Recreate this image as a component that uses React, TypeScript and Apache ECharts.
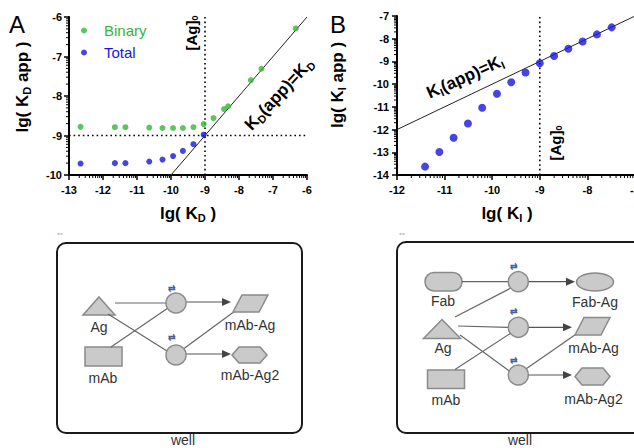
import React, { useEffect, useRef } from 'react';
import * as echarts from 'echarts';

// Panel A data: lg(KD) vs lg(KD app)
const binaryX = [-12.66, -11.65, -11.34, -10.64, -10.25, -9.94, -9.65, -9.34, -9.04, -8.75, -8.44, -8.32, -7.65, -7.34, -6.33];
const binaryY = [-8.78, -8.79, -8.79, -8.8, -8.81, -8.81, -8.81, -8.79, -8.71, -8.56, -8.33, -8.26, -7.6, -7.31, -6.29];
const totalX = [-12.66, -11.65, -11.34, -10.64, -10.25, -9.94, -9.65, -9.34, -9.04];
const totalY = [-9.71, -9.7, -9.7, -9.66, -9.61, -9.52, -9.39, -9.22, -8.98];
// Panel B data: lg(KI) vs lg(KI app)
const kiX = [-11.41, -11.11, -10.81, -10.51, -10.21, -9.9, -9.6, -9.3, -9.0, -8.7, -8.4, -8.1, -7.8, -7.49];
const kiY = [-13.63, -12.99, -12.36, -11.73, -11.04, -10.42, -9.92, -9.49, -9.08, -8.76, -8.44, -8.12, -7.81, -7.5];
// Reference lines
const identityA = [-10, -6];
const identityB = [-12, -7];
const ag0A = -9;
const kdRefA = -9;
const ag0B = -9;
// Axis ranges
const xRangeA = [-13, -6];
const yRangeA = [-10, -6];
const xRangeB = [-12, -7];
const yRangeB = [-14, -7];
// log-style minor tick multipliers within each decade
const minorMult = [2, 3, 4, 5, 6, 7, 8, 9];

const GREEN = '#36b536';
const BLUE = '#1717dc';
const FONT = 'Arial, "Liberation Sans", sans-serif';

function minorTicks(range: number[]) {
  const out: number[] = [];
  for (let n = range[0]; n < range[1]; n++) {
    for (const k of minorMult) out.push(n + Math.log10(k));
  }
  return out;
}

function subRich(size: number, weight: string, color: string) {
  const s = Math.round(size * 0.62);
  return {
    a: { fontSize: size, fontWeight: weight, fontFamily: FONT, fill: color, color },
    s: { fontSize: s, fontWeight: weight, fontFamily: FONT, fill: color, color, padding: [Math.round(size * 0.55), 0, 0, 0] },
  };
}

function richText(x: number, y: number, text: string, size: number, weight: string, rotationDeg: number, color = '#000') {
  return {
    type: 'text',
    x,
    y,
    rotation: (rotationDeg * Math.PI) / 180,
    silent: true,
    style: {
      text,
      rich: subRich(size, weight, color),
      align: 'center',
      verticalAlign: 'middle',
      fill: color,
      fontSize: size,
      fontWeight: weight,
      fontFamily: FONT,
    },
  };
}

function plainText(x: number, y: number, text: string, size: number, color = '#333', weight = 'normal') {
  return {
    type: 'text',
    x,
    y,
    silent: true,
    style: { text, fill: color, fontSize: size, fontFamily: FONT, fontWeight: weight, align: 'center', verticalAlign: 'middle' },
  };
}

const SHAPE_STYLE = { fill: '#cacaca', stroke: '#8a8a8a', lineWidth: 1.5 };
const LINE_STYLE = { stroke: '#666', lineWidth: 1.2 };

function ln(x1: number, y1: number, x2: number, y2: number) {
  return { type: 'line', silent: true, shape: { x1, y1, x2, y2 }, style: LINE_STYLE };
}
function arrow(x1: number, y: number, x2: number) {
  return [
    { type: 'line', silent: true, shape: { x1, y1: y, x2: x2 - 6, y2: y }, style: { stroke: '#555', lineWidth: 1.2 } },
    { type: 'polygon', silent: true, shape: { points: [[x2, y], [x2 - 9, y - 4], [x2 - 9, y + 4]] }, style: { fill: '#444' } },
  ];
}
function circ(cx: number, cy: number) {
  return { type: 'circle', silent: true, shape: { cx, cy, r: 10 }, style: SHAPE_STYLE };
}
function hexagon(cx: number, cy: number, w: number, h: number) {
  const hw = w / 2, hh = h / 2, c = w * 0.2;
  return {
    type: 'polygon', silent: true,
    shape: { points: [[cx - hw, cy], [cx - hw + c, cy - hh], [cx + hw - c, cy - hh], [cx + hw, cy], [cx + hw - c, cy + hh], [cx - hw + c, cy + hh]] },
    style: SHAPE_STYLE,
  };
}
function parallelogram(x: number, y: number, w: number, h: number, skew: number) {
  return {
    type: 'polygon', silent: true,
    shape: { points: [[x + skew, y], [x + w, y], [x + w - skew, y + h], [x, y + h]] },
    style: SHAPE_STYLE,
  };
}
function triangle(cx: number, top: number, w: number, h: number) {
  return {
    type: 'polygon', silent: true,
    shape: { points: [[cx, top], [cx + w / 2, top + h], [cx - w / 2, top + h]] },
    style: SHAPE_STYLE,
  };
}
function swapIcon(x: number, y: number) {
  return plainText(x, y, '⇄', 9, '#4a5f9a', 'bold');
}

function diagramA() {
  return [
    { type: 'rect', silent: true, shape: { x: 57, y: 243, width: 245, height: 190, r: 9 }, style: { fill: 'none', stroke: '#1a1a1a', lineWidth: 2 } },
    plainText(60, 233, '⇔', 9, '#7d8db5'),
    triangle(99, 297, 32, 18),
    plainText(99, 327, 'Ag', 14),
    { type: 'rect', silent: true, shape: { x: 85, y: 347, width: 37, height: 19 }, style: SHAPE_STYLE },
    plainText(103, 378, 'mAb', 14),
    ln(115, 303, 166, 303),
    ln(111, 347, 168, 308),
    ln(108, 314, 167, 351),
    ln(182, 350, 235, 311),
    ...arrow(186, 302, 231),
    ...arrow(186, 354, 231),
    circ(176, 303),
    circ(176, 355),
    swapIcon(172, 288),
    swapIcon(172, 337),
    parallelogram(233, 295, 35, 17, 9),
    plainText(250, 325, 'mAb-Ag', 14),
    hexagon(249.5, 355, 35, 16),
    plainText(250, 375, 'mAb-Ag2', 14),
    plainText(183, 440, 'well', 14),
  ];
}

function diagramB() {
  return [
    { type: 'rect', silent: true, shape: { x: 397, y: 242, width: 262, height: 191, r: 9 }, style: { fill: 'none', stroke: '#1a1a1a', lineWidth: 2 } },
    plainText(402, 233, '⇔', 9, '#7d8db5'),
    { type: 'rect', silent: true, shape: { x: 425, y: 272.5, width: 37, height: 18.5, r: 9 }, style: SHAPE_STYLE },
    plainText(443, 301, 'Fab', 14),
    triangle(442, 319.5, 37, 19),
    plainText(443, 348, 'Ag', 14),
    { type: 'rect', silent: true, shape: { x: 427.5, y: 370, width: 37, height: 18.5 }, style: SHAPE_STYLE },
    plainText(446, 400, 'mAb', 14),
    ln(462, 281.7, 508, 281.7),
    ln(455, 317, 511, 288),
    ln(458, 326, 508, 327.3),
    ln(455, 369.5, 511, 333),
    ln(460, 335, 510, 371.5),
    ln(523, 371, 577, 333.5),
    ...arrow(528, 281.7, 575),
    ...arrow(528, 327.3, 572),
    ...arrow(528, 375, 572),
    circ(518.3, 281.7),
    circ(518.3, 327.3),
    circ(518.3, 375),
    swapIcon(513.5, 265.5),
    swapIcon(513.5, 311),
    swapIcon(513.5, 360),
    { type: 'ellipse', silent: true, shape: { cx: 595, cy: 282, rx: 18.5, ry: 9 }, style: SHAPE_STYLE },
    plainText(595, 302, 'Fab-Ag', 14),
    parallelogram(575, 317.5, 35, 17.5, 9),
    plainText(593.5, 348, 'mAb-Ag', 14),
    hexagon(592.5, 376.5, 35, 17),
    plainText(593.5, 398.5, 'mAb-Ag2', 14),
    plainText(520, 440, 'well', 14),
  ];
}

function axisCommon() {
  return {
    axisLine: { show: true, onZero: false, lineStyle: { color: '#000', width: 2 } },
    axisTick: { show: true, inside: false, length: 5, lineStyle: { color: '#000', width: 1.5 } },
    splitLine: { show: false },
    axisLabel: { color: '#000', fontSize: 11, fontWeight: 'bold', fontFamily: FONT },
  };
}

function tickSeries(values: number[], axis: 'x' | 'y', fixed: number, idx: number) {
  const data = values.map((v) => (axis === 'x' ? [v, fixed] : [fixed, v]));
  return {
    type: 'custom',
    xAxisIndex: idx,
    yAxisIndex: idx,
    silent: true,
    clip: false,
    data,
    renderItem: (_params: any, api: any) => {
      const p = api.coord([api.value(0), api.value(1)]);
      if (axis === 'x') {
        return { type: 'line', shape: { x1: p[0], y1: p[1], x2: p[0], y2: p[1] + 3 }, style: { stroke: '#000', lineWidth: 1 } };
      }
      return { type: 'line', shape: { x1: p[0] - 3, y1: p[1], x2: p[0], y2: p[1] }, style: { stroke: '#000', lineWidth: 1 } };
    },
  };
}

function lineSeries(name: string, data: number[][], idx: number, dotted: boolean) {
  return {
    name,
    type: 'line',
    xAxisIndex: idx,
    yAxisIndex: idx,
    data,
    showSymbol: false,
    symbol: 'none',
    silent: true,
    lineStyle: dotted ? { color: '#000', width: 1.6, type: [1.6, 3] } : { color: '#222', width: 1 },
    z: 1,
  };
}

export default function App() {
  const ref = useRef<HTMLDivElement>(null);
  useEffect(() => {
    if (!ref.current) return;
    const chart = echarts.init(ref.current, null, { renderer: 'svg' });
    const option: any = {
      animation: false,
      backgroundColor: '#fff',
      legend: {
        show: true,
        left: 76,
        top: 17,
        orient: 'vertical',
        itemWidth: 30,
        itemHeight: 6,
        itemGap: 5,
        icon: 'circle',
        selectedMode: false,
        textStyle: { fontSize: 15, fontFamily: FONT, lineHeight: 17, padding: [0, 0, 0, 0] },
        data: [
          { name: 'Binary', textStyle: { color: GREEN } },
          { name: 'Total', textStyle: { color: BLUE } },
        ],
      },
      grid: [
        { left: 69, top: 17, width: 238, height: 158, containLabel: false, outerBoundsMode: 'none' },
        { left: 397, top: 16, width: 238, height: 159, containLabel: false, outerBoundsMode: 'none' },
      ],
      xAxis: [
        { type: 'value', gridIndex: 0, min: xRangeA[0], max: xRangeA[1], interval: 1, ...axisCommon(), axisLabel: { ...axisCommon().axisLabel, margin: 9 } },
        { type: 'value', gridIndex: 1, min: xRangeB[0], max: xRangeB[1], interval: 1, ...axisCommon(), axisLabel: { ...axisCommon().axisLabel, margin: 9, showMaxLabel: true } },
      ],
      yAxis: [
        { type: 'value', gridIndex: 0, min: yRangeA[0], max: yRangeA[1], interval: 1, ...axisCommon(), axisLabel: { ...axisCommon().axisLabel, margin: 7 } },
        { type: 'value', gridIndex: 1, min: yRangeB[0], max: yRangeB[1], interval: 1, ...axisCommon(), axisLabel: { ...axisCommon().axisLabel, margin: 8 } },
      ],
      series: [
        lineSeries('KD(app)=KD', identityA.map((v) => [v, v]), 0, false),
        lineSeries('[Ag]0 A', [[ag0A, yRangeA[0]], [ag0A, yRangeA[1]]], 0, true),
        lineSeries('KD ref A', [[xRangeA[0], kdRefA], [xRangeA[1], kdRefA]], 0, true),
        lineSeries('KI(app)=KI', identityB.map((v) => [v, v]), 1, false),
        lineSeries('[Ag]0 B', [[ag0B, yRangeB[0]], [ag0B, yRangeB[1]]], 1, true),
        {
          name: 'Binary', type: 'scatter', xAxisIndex: 0, yAxisIndex: 0, symbol: 'circle', symbolSize: 6,
          itemStyle: { color: GREEN }, data: binaryX.map((x, i) => [x, binaryY[i]]), z: 5,
        },
        {
          name: 'Total', type: 'scatter', xAxisIndex: 0, yAxisIndex: 0, symbol: 'circle', symbolSize: 6,
          itemStyle: { color: BLUE }, data: totalX.map((x, i) => [x, totalY[i]]), z: 5,
        },
        {
          name: 'KI app', type: 'scatter', xAxisIndex: 1, yAxisIndex: 1, symbol: 'circle', symbolSize: 8,
          itemStyle: { color: BLUE }, data: kiX.map((x, i) => [x, kiY[i]]), z: 5,
        },
        tickSeries(minorTicks(xRangeA), 'x', yRangeA[0], 0),
        tickSeries(minorTicks(yRangeA), 'y', xRangeA[0], 0),
        tickSeries(minorTicks(xRangeB), 'x', yRangeB[0], 1),
        tickSeries(minorTicks(yRangeB), 'y', xRangeB[0], 1),
      ],
      graphic: [
        plainText(17, 24, 'A', 24, '#000'),
        plainText(338, 24, 'B', 24, '#000'),
        richText(22, 87, '{a|lg( K}{s|D}{a| app )}', 17, 'bold', 90),
        richText(188, 213, '{a|lg( K}{s|D}{a| )}', 17, 'bold', 0),
        richText(337, 85, '{a|lg( K}{s|I}{a| app )}', 17, 'bold', 90),
        richText(507, 213, '{a|lg( K}{s|I}{a| )}', 17, 'bold', 0),
        richText(191, 33, '{a|[Ag]}{s|0}', 15, 'bold', 90),
        richText(279, 94, '{a|K}{s|D}{a|(app)=K}{s|D}', 17, 'bold', 47),
        richText(465, 77, '{a|K}{s|I}{a|(app)=K}{s|I}', 17, 'bold', 24),
        richText(555, 143, '{a|[Ag]}{s|0}', 15, 'bold', 90),
        ...diagramA(),
        ...diagramB(),
      ],
    };
    chart.setOption(option);
    return () => chart.dispose();
  }, []);
  return <div ref={ref} style={{ position: 'fixed', left: 0, top: 0, width: 634, height: 448 }} />;
}
